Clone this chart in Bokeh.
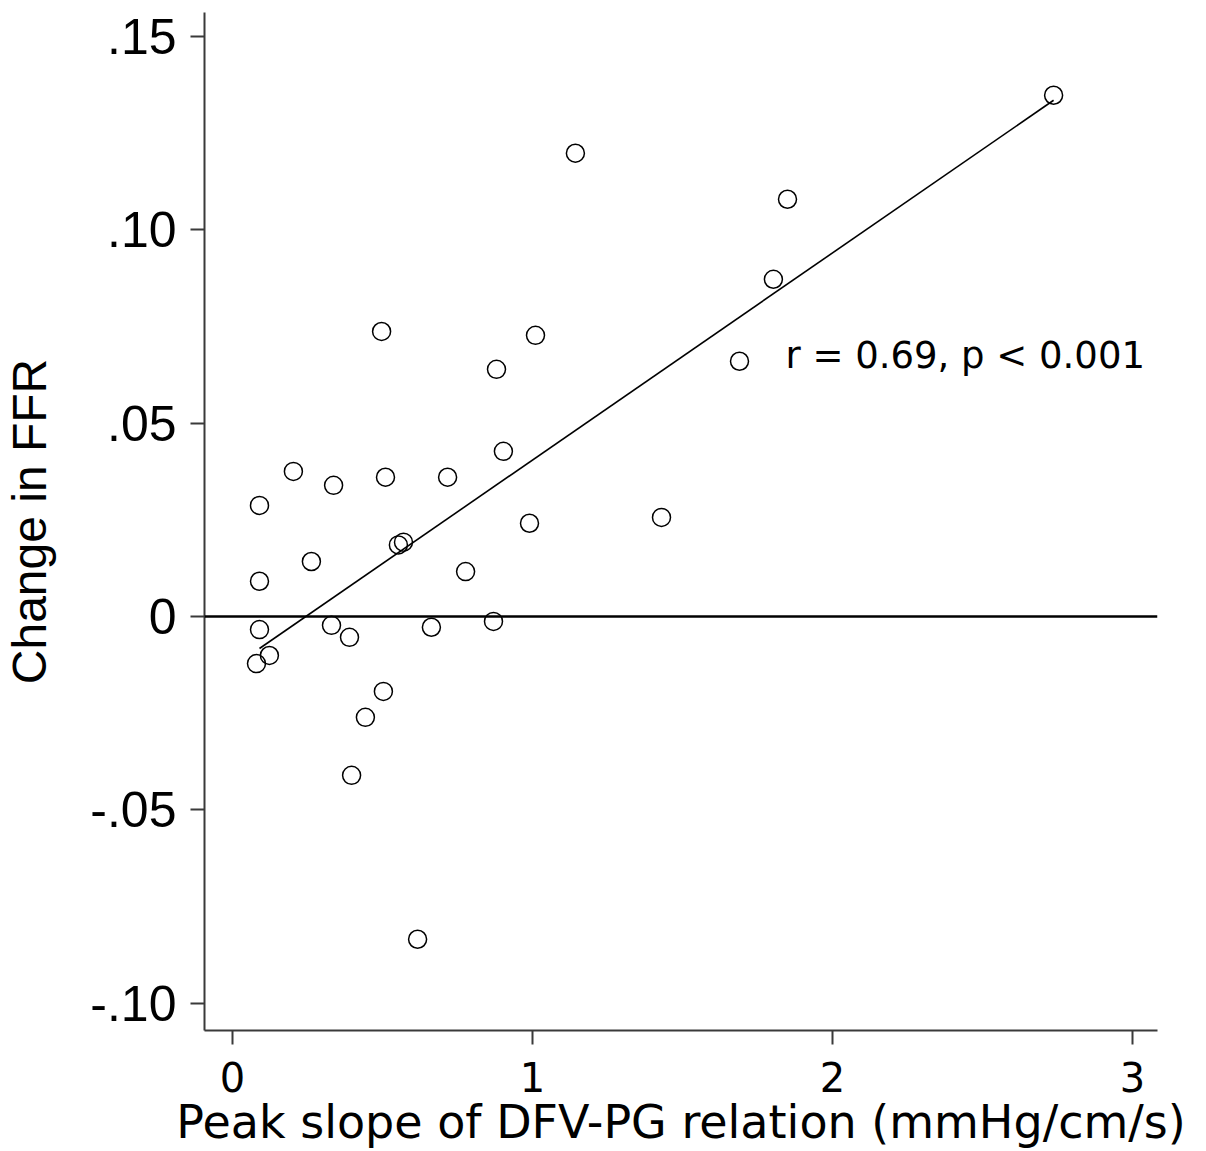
from bokeh.plotting import figure
from bokeh.models import Span, FixedTicker, Range1d, Label
from bokeh.embed import file_html
from bokeh.resources import INLINE

# Data
peak_slope = [2.737, 1.143, 1.850, 1.803, 0.497, 1.010, 1.690, 0.880, 0.903,
              0.203, 0.337, 0.510, 0.717, 0.090, 1.430, 0.990, 0.553, 0.570,
              0.263, 0.777, 0.090, 0.090, 0.330, 0.663, 0.870, 0.390, 0.123,
              0.080, 0.503, 0.443, 0.397, 0.617]
change_ffr = [0.1348, 0.1198, 0.1079, 0.0872, 0.0737, 0.0727, 0.0660, 0.0639, 0.0427,
              0.0375, 0.0339, 0.0360, 0.0360, 0.0287, 0.0256, 0.0241, 0.0185, 0.0192,
              0.0142, 0.0116, 0.0091, -0.0034, -0.0023, -0.0028, -0.0013, -0.0054, -0.0101,
              -0.0122, -0.0194, -0.0261, -0.0411, -0.0835]
fit_x = [0.09, 2.737]
fit_y = [-0.0083, 0.1335]
x_ticks = [0, 1, 2, 3]
x_tick_labels = ["0", "1", "2", "3"]
y_ticks = [-0.10, -0.05, 0.0, 0.05, 0.10, 0.15]
y_tick_labels = ["-.10", "-.05", "0", ".05", ".10", ".15"]
annotation = "r = 0.69, p < 0.001"

FONT_Y = "Liberation Sans"
FONT_X = "DejaVu Sans"
AX = "#3a3a3a"

p = figure(width=1206, height=1151, output_backend="svg", toolbar_location=None,
           x_range=Range1d(-0.0933, 3.0833), y_range=Range1d(-0.1071, 0.1562),
           min_border_left=204, min_border_right=49, min_border_top=12,
           min_border_bottom=121)
p.outline_line_color = None
p.xgrid.visible = False
p.ygrid.visible = False

for ax in (p.xaxis[0], p.yaxis[0]):
    ax.axis_line_color = AX
    ax.axis_line_width = 2
    ax.major_tick_line_color = AX
    ax.major_tick_line_width = 2
    ax.major_tick_out = 14
    ax.major_tick_in = 0
    ax.minor_tick_line_color = None
    ax.major_label_text_color = "black"
    ax.axis_label_text_font_style = "normal"
    ax.axis_label_text_color = "black"

p.xaxis.major_label_text_font = FONT_X
p.xaxis.major_label_text_font_size = "40px"
p.xaxis.axis_label_text_font = FONT_X
p.xaxis.axis_label_text_font_size = "46px"
p.yaxis.major_label_text_font = FONT_Y
p.yaxis.major_label_text_font_size = "50px"
p.yaxis.axis_label_text_font = FONT_Y
p.yaxis.axis_label_text_font_size = "48px"

p.xaxis.ticker = FixedTicker(ticks=x_ticks)
p.xaxis.major_label_overrides = {t: l for t, l in zip(x_ticks, x_tick_labels)}
p.yaxis.ticker = FixedTicker(ticks=y_ticks)
p.yaxis.major_label_overrides = {t: l for t, l in zip(y_ticks, y_tick_labels)}
p.xaxis.major_label_standoff = 17
p.yaxis.major_label_standoff = 14
p.xaxis.axis_label = "Peak slope of DFV-PG relation (mmHg/cm/s)"
p.yaxis.axis_label = "Change in FFR"
p.xaxis.axis_label_standoff = 0
p.yaxis.axis_label_standoff = 31

p.add_layout(Span(location=0, dimension="width", line_color="black", line_width=2.5))

p.line(fit_x, fit_y, line_color="black", line_width=1.6)
p.scatter(peak_slope, change_ffr, marker="circle", size=18, fill_color=None,
          line_color="black", line_width=1.5)

p.add_layout(Label(x=1.843, y=0.0675, text=annotation, text_font=FONT_X,
                   text_font_size="37px", text_baseline="middle", text_align="left",
                   text_color="black"))

open("out.html", "w").write(file_html(p, INLINE))
